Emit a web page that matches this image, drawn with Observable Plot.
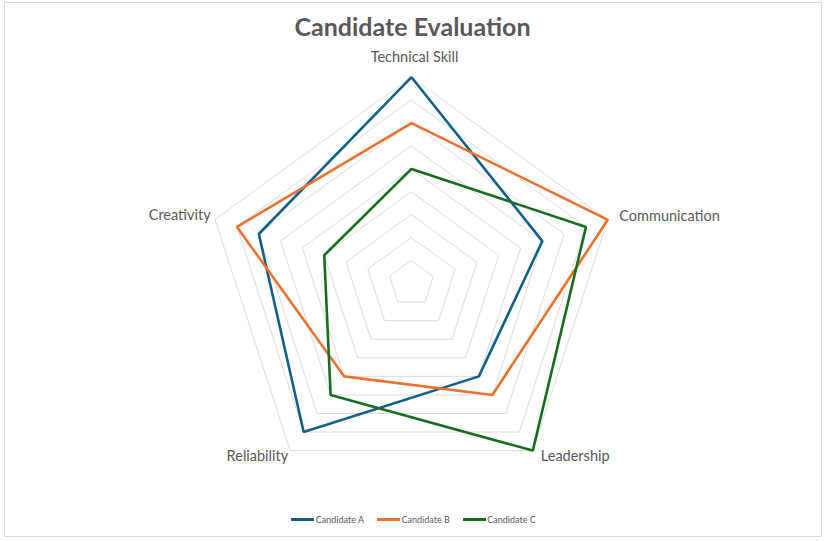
<!DOCTYPE html>
<html>
<head>
<meta charset="utf-8">
<script src="https://cdn.jsdelivr.net/npm/d3@7"></script>
<script src="https://cdn.jsdelivr.net/npm/@observablehq/plot@0.6"></script>
<style>
  body { margin: 0; background: #fff; font-family: Lato, sans-serif; }
  #wrap { position: relative; width: 825px; height: 541px; overflow: hidden; background: #fff; }
  #frame { position: absolute; left: 4px; top: 2px; width: 816px; height: 533px; border: 1px solid #d9d9d9; box-sizing: content-box; }
  #title { position: absolute; left: 0; top: 11px; width: 825px; text-align: center; font-family: Lato, sans-serif; font-weight: bold; font-size: 25px; color: #595959; line-height: normal; }
  #chart { position: absolute; left: 0; top: 0; }
  #legend { position: absolute; left: 0; top: 514px; width: 825px; display: flex; justify-content: center; align-items: center; font-family: Lato, sans-serif; font-size: 9px; color: #595959; padding-left: 1px; }
  .item { display: flex; align-items: center; margin: 0 6.5px; }
  .sw { width: 23px; height: 3px; margin-right: 1.5px; }
</style>
</head>
<body>
<div id="wrap">
  <div id="frame"></div>
  <div id="chart"></div>
  <div id="title">Candidate Evaluation</div>
  <div id="legend"></div>
</div>
<script>
// ---- data ----
const axes = ["Technical Skill", "Communication", "Leadership", "Reliability", "Creativity"];
const seriesNames = ["Candidate A", "Candidate B", "Candidate C"];
const candidateA = [9, 6, 5, 8, 7];
const candidateB = [7, 9, 6, 5, 8];
const candidateC = [5, 8, 9, 6, 4];
const seriesColors = ["#156082", "#E97132", "#196B24"];
const gridLevels = [1, 2, 3, 4, 5, 6, 7, 8, 9];
const maxValue = 9;

// ---- geometry helpers ----
const angle = i => i * 2 * Math.PI / axes.length; // clockwise from top
const px = (r, i) => r * Math.sin(angle(i));
const py = (r, i) => r * Math.cos(angle(i));

const seriesValues = [candidateA, candidateB, candidateC];
const seriesRows = seriesNames.flatMap((name, s) =>
  axes.map((axis, i) => ({ name, axis, value: seriesValues[s][i], x: px(seriesValues[s][i], i), y: py(seriesValues[s][i], i) }))
);
const gridRows = gridLevels.flatMap(level =>
  axes.map((axis, i) => ({ level, axis, x: px(level, i), y: py(level, i) }))
);

// layout
const W = 825, H = 541, cx = 411, cy = 283.1, radiusPx = 206.4;
const unit = radiusPx / maxValue;

const labelStyle = [
  { textAnchor: "middle", dx: 3, dy: -20 },
  { textAnchor: "start", dx: 11.5, dy: -3 },
  { textAnchor: "start", dx: 8, dy: 5.5 },
  { textAnchor: "end", dx: -2, dy: 5.5 },
  { textAnchor: "end", dx: -4.5, dy: -4 }
];

const labelMarks = axes.map((axis, i) =>
  Plot.text([axis], {
    x: () => px(maxValue, i),
    y: () => py(maxValue, i),
    text: d => d,
    textAnchor: labelStyle[i].textAnchor,
    lineAnchor: "middle",
    dx: labelStyle[i].dx,
    dy: labelStyle[i].dy,
    fontSize: 14.5,
    fill: "#595959"
  })
);

const chart = Plot.plot({
  width: W,
  height: H,
  margin: 0,
  style: { fontFamily: "Lato, sans-serif", background: "transparent", overflow: "visible" },
  x: { domain: [-cx / unit, (W - cx) / unit], axis: null },
  y: { domain: [-(H - cy) / unit, cy / unit], axis: null },
  color: { domain: seriesNames, range: seriesColors },
  marks: [
    Plot.line(gridRows, { x: "x", y: "y", z: "level", curve: "linear-closed", stroke: "#dcdcdc", strokeWidth: 1 }),
    Plot.line(seriesRows, { x: "x", y: "y", z: "name", stroke: "name", curve: "linear-closed", strokeWidth: 2.6, strokeLinejoin: "miter" }),
    ...labelMarks
  ]
});
document.getElementById("chart").appendChild(chart);

// legend
const legend = document.getElementById("legend");
seriesNames.forEach((name, i) => {
  const item = document.createElement("div");
  item.className = "item";
  const sw = document.createElement("div");
  sw.className = "sw";
  sw.style.background = seriesColors[i];
  const label = document.createElement("span");
  label.textContent = name;
  item.appendChild(sw);
  item.appendChild(label);
  legend.appendChild(item);
});
</script>
</body>
</html>
